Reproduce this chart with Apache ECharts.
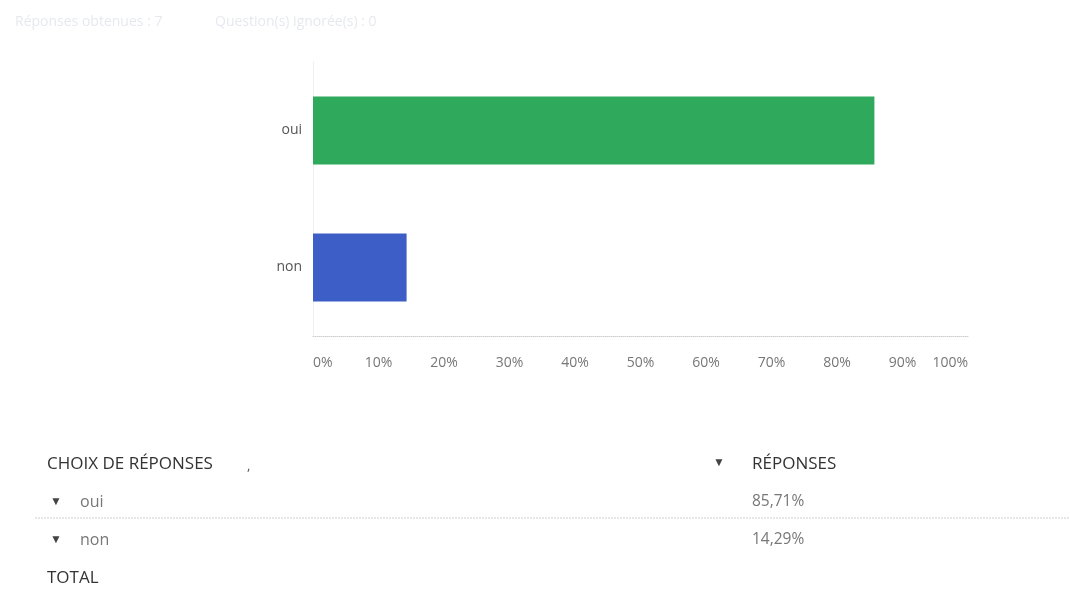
<!DOCTYPE html>
<html>
<head>
<meta charset="utf-8">
<script src="https://cdn.jsdelivr.net/npm/echarts@6/dist/echarts.min.js"></script>
<style>
html,body{margin:0;padding:0;background:#fff;}
#chart{width:1070px;height:605px;}
</style>
</head>
<body>
<div id="chart"></div>
<script>
var categories = ['oui', 'non'];
var values = [85.71, 14.29];
var barColors = ['#2fa95c', '#3d5ec6'];
var xTicks = [0, 10, 20, 30, 40, 50, 60, 70, 80, 90, 100];
var headerTexts = ['Réponses obtenues : 7', 'Question(s) ignorée(s) : 0'];
var tableHeaders = ['CHOIX DE RÉPONSES', 'RÉPONSES'];
var totalLabel = 'TOTAL';

function pct(v) { return v.toFixed(2).replace('.', ',') + '%'; }

var FONT = '"Open Sans", Roboto, sans-serif';
var chart = echarts.init(document.getElementById('chart'));

function txt(x, y, s, color, size) {
  return { type: 'text', x: x, y: y, style: { text: s, fill: color, fontSize: size, fontFamily: FONT, verticalAlign: 'middle', align: 'left' } };
}

var graphics = [
  txt(15, 22, headerTexts[0], '#e6e9ee', 14),
  txt(215, 22, headerTexts[1], '#e6e9ee', 14),
  txt(47, 464, tableHeaders[0], '#333', 17),
  txt(247, 466, ',', '#555', 13),
  txt(713, 463, '▼', '#444', 12),
  txt(752, 464, tableHeaders[1], '#333', 17),
  { type: 'line', shape: { x1: 35, y1: 518, x2: 1070, y2: 518 }, style: { stroke: '#cfcfcf', lineWidth: 1, lineDash: [2, 1] } },
  txt(47, 578, totalLabel, '#333', 17)
];
categories.forEach(function (c, i) {
  var y = 502 + i * 38;
  graphics.push(txt(50, y, '▼', '#444', 12));
  graphics.push(txt(80, y, c, '#777', 16));
  graphics.push(txt(752, y, pct(values[i]), '#777', 15.5));
});

chart.setOption({
  animation: false,
  backgroundColor: '#fff',
  grid: { left: 313, right: 102, top: 62, bottom: 269, containLabel: false },
  xAxis: {
    type: 'value', min: 0, max: 100, interval: 10,
    axisLine: { show: true, lineStyle: { color: '#cfcfcf', type: 'dotted', width: 1 } },
    axisTick: { show: false },
    splitLine: { show: false },
    axisLabel: {
      margin: 20, color: '#777', fontFamily: FONT, fontSize: 14,
      alignMinLabel: 'left', alignMaxLabel: 'right',
      customValues: xTicks,
      formatter: function (v) { return v + '%'; }
    }
  },
  yAxis: {
    type: 'category', data: categories, inverse: true,
    axisLine: { show: true, lineStyle: { color: '#f0f0f0', width: 1 } },
    axisTick: { show: false },
    axisLabel: { margin: 11, color: '#555', fontFamily: FONT, fontSize: 14 }
  },
  series: [{
    type: 'bar',
    barWidth: 68,
    data: values.map(function (v, i) { return { value: v, itemStyle: { color: barColors[i] } }; })
  }],
  graphic: graphics
});
</script>
</body>
</html>
